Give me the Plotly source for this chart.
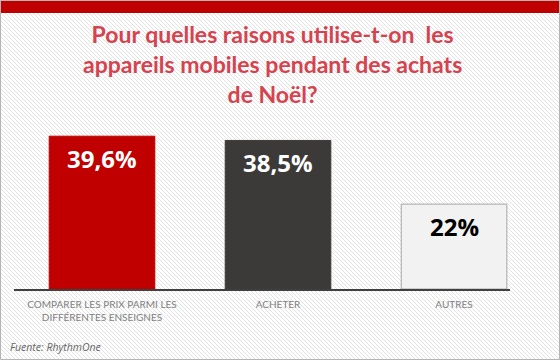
import base64
import plotly.graph_objects as go

# ---- data ----
categories = ["COMPARER LES PRIX PARMI LES<br>DIFFÉRENTES ENSEIGNES", "ACHETER", "AUTRES"]
values = [39.6, 38.5, 22.0]
value_labels = ["39,6%", "38,5%", "22%"]
title_text = "Pour quelles raisons utilise-t-on  les<br>appareils mobiles pendant des achats<br>de Noël?"
source_text = "Fuente: RhythmOne"

bar_colors = ["#c00000", "#3b3a39", "#f2f2f2"]
bar_line_colors = ["#c00000", "#3b3a39", "#a6a6a6"]
label_colors = ["white", "white", "black"]

W, H = 560, 360
L, R, T, B = 14, 50, 125, 71
PW, PH = W - L - R, H - T - B


def px_x(px):
    return (px - L) / PW


def px_y(py):
    return (H - B - py) / PH


svg = (
    "<svg xmlns='http://www.w3.org/2000/svg' width='560' height='360'>"
    "<defs><pattern id='p' width='4' height='4' patternUnits='userSpaceOnUse'>"
    "<path d='M-1,-1 L5,5' stroke='#e2e2e2' stroke-width='1'/></pattern></defs>"
    "<rect width='560' height='360' fill='white'/>"
    "<rect width='560' height='360' fill='url(#p)'/></svg>"
)
bg_src = "data:image/svg+xml;base64," + base64.b64encode(svg.encode()).decode()

fig = go.Figure(
    go.Bar(
        x=categories,
        y=values,
        width=0.6,
        marker=dict(color=bar_colors, line=dict(color=bar_line_colors, width=1)),
        hoverinfo="skip",
    )
)

annotations = []
for cat, v, lab, c in zip(categories, values, value_labels, label_colors):
    annotations.append(dict(
        x=cat, y=v, xref="x", yref="y", text=lab, showarrow=False,
        yanchor="top", yshift=-4,
        font=dict(family="Open Sans", size=24, color=c, weight="bold"),
    ))

annotations.append(dict(
    x=px_x(272), y=px_y(64), xref="paper", yref="paper", text=title_text,
    showarrow=False, xanchor="center", yanchor="middle",
    font=dict(family="Lato", size=23, color="#d6424e", weight="bold"),
))
annotations.append(dict(
    x=px_x(8), y=px_y(347), xref="paper", yref="paper", text="<i>" + source_text + "</i>",
    showarrow=False, xanchor="left", yanchor="middle",
    font=dict(family="Open Sans", size=10.5, color="#666666"),
))

shapes = [
    dict(type="rect", xref="paper", yref="paper", x0=px_x(0), x1=px_x(W), y0=px_y(1), y1=px_y(13),
         fillcolor="#c00000", line=dict(width=0), layer="above"),
    dict(type="rect", xref="paper", yref="paper", x0=px_x(0.5), x1=px_x(W - 0.5), y0=px_y(0.5), y1=px_y(H - 0.5),
         fillcolor="rgba(0,0,0,0)", line=dict(color="#b5b5b5", width=1), layer="above"),
]

fig.update_layout(
    width=W, height=H,
    margin=dict(l=L, r=R, t=T, b=B, pad=0),
    paper_bgcolor="white", plot_bgcolor="rgba(0,0,0,0)",
    showlegend=False,
    bargap=0.4,
    annotations=annotations,
    shapes=shapes,
    images=[dict(source=bg_src, xref="paper", yref="paper", x=px_x(0), y=px_y(0),
                 sizex=W / PW, sizey=H / PH, xanchor="left", yanchor="top",
                 sizing="stretch", layer="below")],
    xaxis=dict(
        type="category", range=[-0.5, 2.318], showline=True, linecolor="#404040", linewidth=2,
        ticks="", showgrid=False, zeroline=False, ticklabelstandoff=5,
        tickfont=dict(family="Lato", size=10, color="#7f7f7f"),
    ),
    yaxis=dict(range=[0, 42.5], visible=False, showgrid=False, zeroline=False),
)

fig.write_html(
    "out.html",
    config={"displayModeBar": False, "staticPlot": True},
    post_script="document.body.style.margin='0';document.body.style.overflow='hidden';",
)
